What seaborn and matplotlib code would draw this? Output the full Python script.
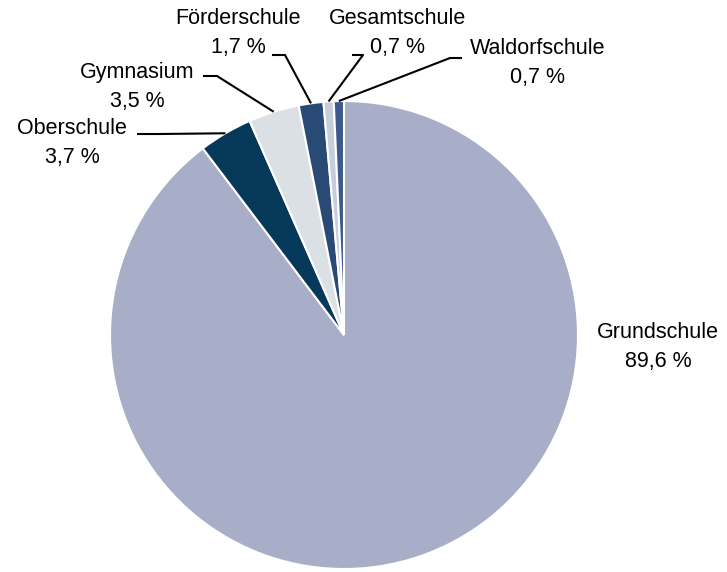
import matplotlib
matplotlib.use("Agg")
import matplotlib.pyplot as plt
import seaborn as sns
import numpy as np

# data
schools = ["Grundschule", "Oberschule", "Gymnasium", "Förderschule", "Gesamtschule", "Waldorfschule"]
shares = [89.6, 3.7, 3.5, 1.7, 0.7, 0.7]
colors = ["#a9aec8", "#06385a", "#dbe0e5", "#284a74", "#c6cedb", "#3b5a8b"]

sns.set_style("white")
plt.rcParams["font.family"] = ["Liberation Sans", "DejaVu Sans"]

W, H = 727, 572
fig = plt.figure(figsize=(W / 100, H / 100), dpi=100)
ax = fig.add_axes([0, 0, 1, 1])

cx, cy, r = 344, H - 335, 234
wedges, _ = ax.pie(shares, colors=colors, startangle=90, counterclock=False,
                   center=(cx, cy), radius=r, frame=True,
                   wedgeprops=dict(edgecolor="white", linewidth=1.5))
ax.set_xlim(0, W)
ax.set_ylim(0, H)
ax.set_aspect("equal")
ax.axis("off")

# label layout in pixel coords (x, y from top): text pos, elbow, line end
layout = {
    "Grundschule":   ((658, 347), None, None),
    "Oberschule":    ((72, 143), (160, 134), (137, 134)),
    "Gymnasium":     ((137, 87), (217, 76), (203, 76)),
    "Förderschule":  ((238, 33), (285, 55), (272, 55)),
    "Gesamtschule":  ((398, 33), (363, 55), (352, 55)),
    "Waldorfschule": ((538, 63), (450, 58), (462, 58)),
}

for w, name, val in zip(wedges, schools, shares):
    txt = f"{name}\n{val:.1f} %".replace(".", ",")
    (tx, ty), elbow, end = layout[name]
    if elbow is not None:
        mid = np.deg2rad((w.theta1 + w.theta2) / 2)
        px = cx + r * np.cos(mid)
        py = cy + r * np.sin(mid)
        ax.plot([px, elbow[0], end[0]], [py, H - elbow[1], H - end[1]],
                color="black", lw=1.5, solid_capstyle="butt")
    ax.text(tx, H - ty, txt, ha="center", va="center", fontsize=15.5,
            linespacing=1.5, color="black")

fig.savefig("out.png", dpi=100)
